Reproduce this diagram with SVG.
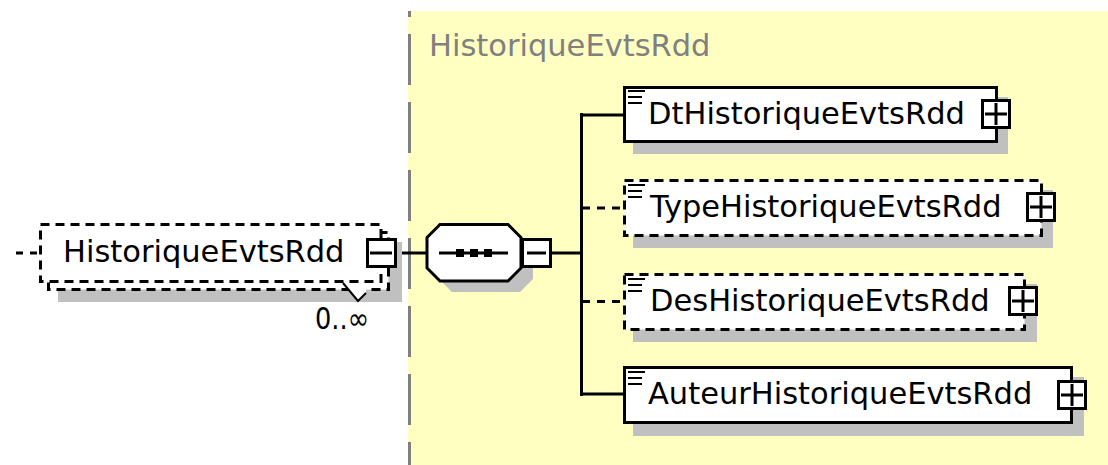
<svg xmlns="http://www.w3.org/2000/svg" width="1108" height="465" viewBox="0 0 1108 465">
<style>
text{font-family:"DejaVu Sans","Verdana",sans-serif;font-size:30.5px;fill:#000}
.title{fill:#808080}
.sh{fill:#c0c0c0;stroke:none}
.box{fill:#fff;stroke:#000;stroke-width:3}
.dbox{fill:#fff;stroke:#000;stroke-width:3;stroke-dasharray:9 6}
.ln{stroke:#000;stroke-width:3;fill:none}
.dln{stroke:#000;stroke-width:3;fill:none;stroke-dasharray:8 7}
.ic{stroke:#000;stroke-width:2}
</style>
<rect x="0" y="0" width="1108" height="465" fill="#fff"/>
<g id="group-HistoriqueEvtsRdd">
<rect x="408" y="11" width="700" height="454" fill="#ffffc2"/>
<line x1="409.5" y1="11" x2="409.5" y2="465" stroke="#808080" stroke-width="3" stroke-dasharray="51 17" stroke-dashoffset="45"/>
<text class="title" x="429" y="56">HistoriqueEvtsRdd</text>
</g>
<g id="connectors">
<line class="ln" x1="16" y1="253" x2="40" y2="253" stroke-width="2" stroke-dasharray="7 7"/>
<line class="ln" x1="397" y1="253" x2="427" y2="253"/>
<line class="ln" x1="552" y1="253" x2="582" y2="253"/>
<line class="ln" x1="581.5" y1="113" x2="581.5" y2="396"/>
<line class="ln" x1="580" y1="115" x2="624" y2="115"/>
<line class="dln" x1="582" y1="208" x2="624" y2="208"/>
<line class="dln" x1="582" y1="301.5" x2="624" y2="301.5"/>
<line class="ln" x1="580" y1="394" x2="624" y2="394"/>
</g>
<g id="node-HistoriqueEvtsRdd">
<rect class="sh" x="58" y="242" width="344" height="60"/>
<rect class="dbox" x="48.5" y="232.5" width="340" height="57"/>
<rect class="dbox" x="40.5" y="224.5" width="340.5" height="57"/>
<polygon points="343,283 366,283 366,292 358,300" fill="#fff"/>
<polyline points="343,283 358,301 366,293" fill="none" stroke="#000" stroke-width="2"/>
<text x="63" y="262">HistoriqueEvtsRdd</text>
<rect class="box" x="367.5" y="239.5" width="28" height="27"/>
<line class="ln" x1="370" y1="253" x2="392" y2="253"/>
<text x="315" y="329" textLength="54" lengthAdjust="spacingAndGlyphs">0..∞</text>
</g>
<g id="node-sequence">
<polygon class="sh" points="452,235 520,235 533,248 533,279 520,292 452,292 439,279 439,248"/>
<polygon class="box" points="440,224.5 508,224.5 521,237.5 521,268 508,281 440,281 427,268 427,237.5"/>
<line class="ln" x1="439" y1="253" x2="508" y2="253"/>
<rect x="456" y="249" width="8" height="8" fill="#000"/>
<rect x="470" y="249" width="8" height="8" fill="#000"/>
<rect x="484" y="249" width="8" height="8" fill="#000"/>
<rect class="box" x="522.5" y="239.5" width="28" height="27"/>
<line class="ln" x1="527" y1="253" x2="546" y2="253"/>
</g>
<g id="node-DtHistoriqueEvtsRdd">
<rect class="sh" x="633" y="97" width="375" height="57"/>
<rect class="box" x="624.5" y="87.5" width="372" height="54"/>
<line class="ic" x1="628" y1="91" x2="645" y2="91"/>
<line class="ic" x1="628" y1="97" x2="642" y2="97"/>
<line class="ic" x1="628" y1="103" x2="642" y2="103"/>
<text x="648" y="124">DtHistoriqueEvtsRdd</text>
<rect class="box" x="982.5" y="100.5" width="27" height="27"/>
<line class="ln" x1="985" y1="114" x2="1007" y2="114"/>
<line class="ln" x1="996" y1="103" x2="996" y2="125"/>
</g>
<g id="node-TypeHistoriqueEvtsRdd">
<rect class="sh" x="633" y="190" width="420" height="58"/>
<rect class="dbox" x="624.5" y="180.5" width="417" height="55"/>
<line class="ic" x1="628" y1="185" x2="645" y2="185"/>
<line class="ic" x1="628" y1="191" x2="642" y2="191"/>
<line class="ic" x1="628" y1="197" x2="642" y2="197"/>
<text x="650" y="217">TypeHistoriqueEvtsRdd</text>
<rect class="box" x="1027.5" y="193.5" width="27" height="27"/>
<line class="ln" x1="1030" y1="207" x2="1052" y2="207"/>
<line class="ln" x1="1041" y1="196" x2="1041" y2="218"/>
</g>
<g id="node-DesHistoriqueEvtsRdd">
<rect class="sh" x="633" y="284" width="404" height="58"/>
<rect class="dbox" x="624.5" y="274.5" width="400" height="55"/>
<line class="ic" x1="628" y1="279" x2="645" y2="279"/>
<line class="ic" x1="628" y1="285" x2="642" y2="285"/>
<line class="ic" x1="628" y1="291" x2="642" y2="291"/>
<text x="650" y="311">DesHistoriqueEvtsRdd</text>
<rect class="box" x="1009.5" y="287.5" width="27" height="27"/>
<line class="ln" x1="1012" y1="301" x2="1034" y2="301"/>
<line class="ln" x1="1023" y1="290" x2="1023" y2="312"/>
</g>
<g id="node-AuteurHistoriqueEvtsRdd">
<rect class="sh" x="633" y="377" width="451" height="59"/>
<rect class="box" x="624.5" y="367.5" width="447" height="55"/>
<line class="ic" x1="628" y1="372" x2="645" y2="372"/>
<line class="ic" x1="628" y1="378" x2="642" y2="378"/>
<line class="ic" x1="628" y1="384" x2="642" y2="384"/>
<text x="648" y="404">AuteurHistoriqueEvtsRdd</text>
<rect class="box" x="1058.5" y="381.5" width="27" height="27"/>
<line class="ln" x1="1061" y1="395" x2="1083" y2="395"/>
<line class="ln" x1="1072" y1="384" x2="1072" y2="406"/>
</g>
</svg>
